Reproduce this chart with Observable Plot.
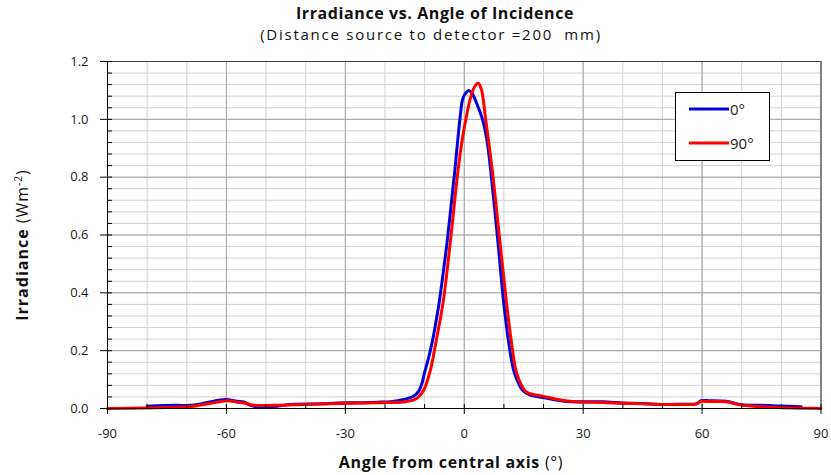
<!DOCTYPE html>
<html>
<head>
<meta charset="utf-8">
<script src="https://cdn.jsdelivr.net/npm/d3@7"></script>
<script src="https://cdn.jsdelivr.net/npm/@observablehq/plot@0.6"></script>
<style>
  html, body { margin: 0; padding: 0; background: #fff; }
  #chart { width: 831px; height: 475px; }
</style>
</head>
<body>
<div id="chart"></div>
<script>
// ---- Data ----
const seriesNames = ["0°", "90°"];
const seriesColors = ["#0000dd", "#ff0000"];

const angle0 = [-80, -73, -69, -66.5, -62.3, -60.2, -57.3, -55.6, -53.9, -52.2, -47.2, -43.8, -35.4, -32, -26, -21.9, -18.6, -15.2, -12.7, -11.5, -10.6, -10.1, -9, -8, -7.2, -6.4, -5.3, -4.2, -3.3, -2.4, -1.1, -0.4, 0.3, 1.2, 2, 3, 4.6, 5.7, 6.7, 8.4, 10, 11.3, 12.5, 13.6, 14.6, 16.4, 20.2, 25.2, 30, 35, 40, 45, 50, 55, 58.5, 59.7, 62, 66, 70, 75, 79, 85];
const irr0   = [0.008, 0.011, 0.011, 0.016, 0.028, 0.031, 0.025, 0.023, 0.011, 0.006, 0.008, 0.014, 0.016, 0.019, 0.02, 0.022, 0.023, 0.031, 0.043, 0.06, 0.09, 0.12, 0.175, 0.235, 0.295, 0.36, 0.47, 0.59, 0.705, 0.82, 1.0, 1.07, 1.09, 1.10, 1.09, 1.06, 1.0, 0.93, 0.82, 0.59, 0.36, 0.22, 0.13, 0.09, 0.065, 0.048, 0.037, 0.025, 0.023, 0.023, 0.019, 0.017, 0.014, 0.015, 0.016, 0.027, 0.027, 0.025, 0.013, 0.011, 0.009, 0.006];

const angle90 = [-90, -80, -74, -69, -62.3, -60, -57.3, -55.6, -53, -48, -43, -35, -28, -21, -16, -12.7, -11.5, -10, -8.5, -7, -5.3, -3.4, -1.6, -0.5, 0.4, 1.5, 2.5, 3.5, 4.3, 5.4, 7.1, 8.9, 10.7, 12, 12.9, 13.8, 15.5, 17, 20, 25, 30, 35, 40, 45, 50, 55, 58.5, 59.7, 62, 66, 70, 75, 80, 85, 90];
const irr90   = [0, 0.002, 0.004, 0.007, 0.022, 0.027, 0.022, 0.019, 0.011, 0.011, 0.013, 0.016, 0.018, 0.02, 0.022, 0.03, 0.04, 0.07, 0.135, 0.24, 0.37, 0.59, 0.82, 0.93, 1.0, 1.07, 1.11, 1.125, 1.105, 1.0, 0.82, 0.59, 0.36, 0.22, 0.14, 0.1, 0.058, 0.05, 0.042, 0.028, 0.022, 0.021, 0.018, 0.016, 0.014, 0.014, 0.015, 0.024, 0.024, 0.023, 0.012, 0.006, 0.003, 0.001, 0];

const xTicks = [-90, -60, -30, 0, 30, 60, 90];
const xMinor = [-90, -80, -70, -60, -50, -40, -30, -20, -10, 0, 10, 20, 30, 40, 50, 60, 70, 80, 90];
const yTicks = [0, 0.2, 0.4, 0.6, 0.8, 1.0, 1.2];
const yMinor = d3.range(0, 31).map(i => +(i * 0.04).toFixed(2));

const titleText = "Irradiance vs. Angle of Incidence";
const subtitleText = "(Distance source to detector =200  mm)";

// ---- Build tables ----
const data0 = angle0.map((a, i) => ({angle: a, irr: irr0[i]}));
const data90 = angle90.map((a, i) => ({angle: a, irr: irr90[i]}));

const font = "'Open Sans', Lato, sans-serif";

const chart = Plot.plot({
  width: 831,
  height: 475,
  marginLeft: 107,
  marginRight: 10.5,
  marginTop: 61,
  marginBottom: 67,
  x: {domain: [-90, 90]},
  y: {domain: [0, 1.2]},
  style: {fontFamily: font, fontSize: "13px", color: "#1a1a1a", background: "#fff"},
  marks: [
    Plot.gridX(xMinor, {stroke: "#d2d2d2", strokeOpacity: 1}),
    Plot.gridY(yMinor, {stroke: "#d2d2d2", strokeOpacity: 1}),
    Plot.gridX(xTicks, {stroke: "#a4a4a4", strokeOpacity: 1}),
    Plot.gridY(yTicks, {stroke: "#a4a4a4", strokeOpacity: 1}),
    Plot.line(data0, {x: "angle", y: "irr", stroke: seriesColors[0], strokeWidth: 3, curve: "catmull-rom"}),
    Plot.line(data90, {x: "angle", y: "irr", stroke: seriesColors[1], strokeWidth: 3, curve: "catmull-rom"}),
    Plot.frame({stroke: "#404040"}),
    Plot.ruleX([-90], {stroke: "#000"}),
    Plot.ruleY([0], {stroke: "#000"}),
    Plot.axisX(xTicks, {tickSize: 6, tickPadding: 14, tickFormat: d => String(d), label: null, stroke: "#000"}),
    Plot.axisX(xMinor, {tickSize: -4, fill: "none", label: null, stroke: "#000"}),
    Plot.axisY(yTicks, {tickSize: 7, tickPadding: 12, tickFormat: d => d.toFixed(1), label: null, stroke: "#000"}),
    Plot.axisY(yMinor, {tickSize: -5, fill: "none", label: null, stroke: "#000"})
  ]
});

document.getElementById("chart").appendChild(chart);

// ---- Titles, axis labels and legend ----
const svg = d3.select(chart);
const txt = svg.append("g").attr("font-family", font).attr("fill", "#111");

txt.append("text").attr("x", 435).attr("y", 19).attr("text-anchor", "middle")
  .attr("font-size", 16).attr("font-weight", "bold").attr("letter-spacing", 0.6).text(titleText);
txt.append("text").attr("x", 431).attr("y", 39.5).attr("text-anchor", "middle")
  .attr("font-size", 15).attr("letter-spacing", 1.75).text(subtitleText);

const xl = txt.append("text").attr("x", 451).attr("y", 468).attr("text-anchor", "middle")
  .attr("font-size", 16).attr("letter-spacing", 0.7);
xl.append("tspan").attr("font-weight", "bold").text("Angle from central axis ");
xl.append("tspan").text("(°)");

const yl = txt.append("text").attr("transform", "translate(28,245) rotate(-90)").attr("text-anchor", "middle")
  .attr("font-size", 16).attr("letter-spacing", 1);
yl.append("tspan").attr("font-weight", "bold").text("Irradiance ");
yl.append("tspan").text("(Wm");
yl.append("tspan").attr("font-size", 10).attr("dy", -6).text("-2");
yl.append("tspan").attr("dy", 6).text(")");

const lg = svg.append("g").attr("font-family", font);
lg.append("rect").attr("x", 675.5).attr("y", 92.5).attr("width", 94).attr("height", 68)
  .attr("fill", "#fff").attr("stroke", "#000");
seriesNames.forEach((name, i) => {
  const yy = 109 + i * 34;
  lg.append("line").attr("x1", 689).attr("x2", 729).attr("y1", yy).attr("y2", yy)
    .attr("stroke", seriesColors[i]).attr("stroke-width", 3);
  lg.append("text").attr("x", 730).attr("y", yy + 5.5).attr("text-anchor", "start")
    .attr("font-size", 15).attr("fill", "#222").text(name);
});
</script>
</body>
</html>
